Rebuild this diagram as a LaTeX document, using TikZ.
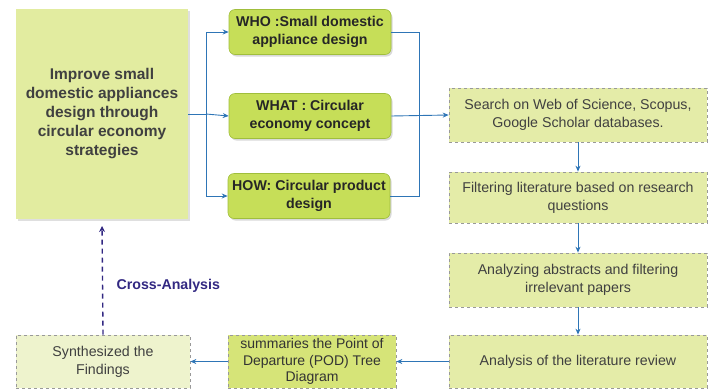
\documentclass[tikz,border=0pt]{standalone}
\usepackage{fontspec}
\setmainfont{Liberation Sans}
\usetikzlibrary{shadows,arrows.meta}
\definecolor{bigfill}{RGB}{226,236,160}
\definecolor{qfill}{RGB}{198,222,88}
\definecolor{qdraw}{RGB}{160,190,60}
\definecolor{sfill}{RGB}{228,236,168}
\definecolor{sumfill}{RGB}{214,228,120}
\definecolor{synfill}{RGB}{238,243,205}
\definecolor{txt}{RGB}{64,64,64}
\definecolor{arr}{RGB}{46,117,182}
\definecolor{purp}{RGB}{50,40,130}
\tikzset{
  bigbox/.style={fill=bigfill, draw=none, minimum width=172pt, minimum height=210pt, inner sep=0pt, align=center, font=\bfseries\fontsize{15.5}{19}\selectfont, text=txt, drop shadow={shadow xshift=2pt, shadow yshift=-2pt, opacity=0.25}},
  qbox/.style={fill=qfill, draw=qdraw, line width=0.6pt, rounded corners=6pt, minimum width=162pt, minimum height=45pt, inner sep=0pt, align=center, font=\bfseries\fontsize{14.2}{17.5}\selectfont, text=black!85, drop shadow={shadow xshift=1.5pt, shadow yshift=-2pt, opacity=0.3}},
  sbox/.style={fill=sfill, draw=gray!80, dashed, line width=0.7pt, minimum width=258pt, minimum height=54pt, inner sep=0pt, align=center, font=\fontsize{14.2}{18}\selectfont, text=txt},
  conn/.style={draw=arr, line width=0.9pt, -{Stealth[length=6pt,width=5pt]}},
  plain/.style={draw=arr, line width=0.9pt},
}
\begin{document}
\begin{tikzpicture}[x=1pt,y=-1pt]
\useasboundingbox (0,0) rectangle (708,389);
\node[bigbox] (goal) at (102,114) {Improve small\\domestic appliances\\design through\\circular economy\\strategies};
\node[qbox] (who) at (310,32) {WHO :Small domestic\\appliance design};
\node[qbox] (what) at (310,116) {WHAT : Circular\\economy concept};
\node[qbox] (how) at (309,196) {HOW: Circular product\\design};
\node[sbox] (search) at (578,115) {Search on Web of Science, Scopus,\\Google Scholar databases.};
\node[sbox, minimum height=51pt] (filter) at (578,197.5) {Filtering literature based on research\\questions};
\node[sbox] (abs) at (578,280) {Analyzing abstracts and filtering\\irrelevant papers};
\node[sbox, minimum height=53pt] (rev) at (578,361.5) {Analysis of the literature review};
\node[sbox, fill=sumfill, minimum width=168pt, minimum height=53pt, font=\fontsize{14}{16.5}\selectfont, text=black!80] (pod) at (312,361.5) {summaries the Point of\\Departure (POD) Tree\\Diagram};
\node[sbox, fill=synfill, minimum width=174pt, minimum height=53pt] (syn) at (103,361.5) {Synthesized the\\Findings};
\coordinate (lj) at (206,114);
\coordinate (rj) at (419,32);
% left fan
\draw[plain] (goal.east) -- (lj);
\draw[conn] (lj) |- (who.west);
\draw[conn] (lj) -- (what.west);
\draw[conn] (lj) |- (how.west);
% right merge
\draw[plain] (who.east) -| (rj) |- (how.east);
\draw[conn] (what.east) -- (search.west);
% chain
\draw[conn] (search) -- (filter);
\draw[conn] (filter) -- (abs);
\draw[conn] (abs) -- (rev);
\draw[conn] (rev) -- (pod);
\draw[conn] (pod) -- (syn);
\draw[draw=purp, line width=1.4pt, dash pattern=on 5pt off 4pt, -{Stealth[length=6pt,width=6pt]}] (syn.north) -- (goal.south |- 0,226) node[pos=0.45, right=10pt, text=purp, font=\bfseries\fontsize{14.2}{16}\selectfont] {Cross-Analysis};
\end{tikzpicture}
\end{document}
